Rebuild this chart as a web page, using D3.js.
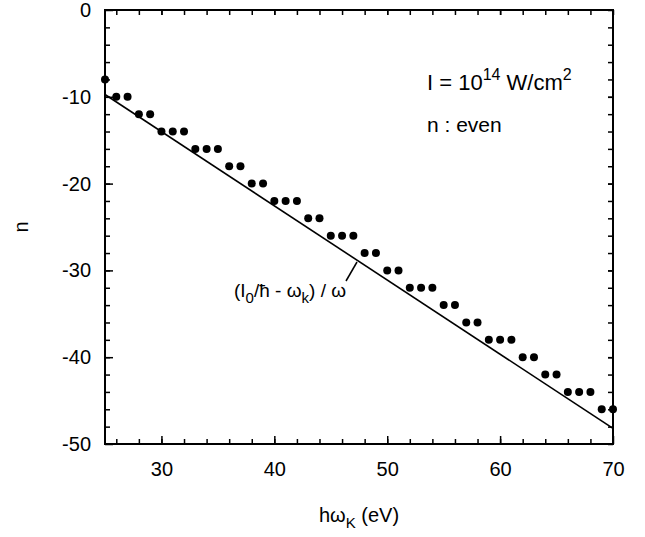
<!DOCTYPE html>
<html>
<head>
<meta charset="utf-8">
<script src="https://cdn.jsdelivr.net/npm/d3@7"></script>
<style>
  body { margin: 0; background: #fff; }
  svg text { font-family: "Liberation Sans", Arial, sans-serif; fill: #000; }
</style>
</head>
<body>
<div id="chart"></div>
<script>
// photon energy h*omega_K (eV) and harmonic order n (even)
const energy = [25, 26, 27, 28, 29, 30, 31, 32, 33, 34, 35, 36, 37, 38, 39, 40, 41, 42, 43, 44, 45, 46, 47,
  48, 49, 50, 51, 52, 53, 54, 55, 56, 57, 58, 59, 60, 61, 62, 63, 64, 65, 66, 67, 68, 69, 70];
const order = [-8, -10, -10, -12, -12, -14, -14, -14, -16, -16, -16, -18, -18, -20, -20, -22, -22, -22, -24, -24, -26, -26, -26,
  -28, -28, -30, -30, -32, -32, -32, -34, -34, -36, -36, -38, -38, -38, -40, -40, -42, -42, -44, -44, -44, -46, -46];

// (I0/hbar - omega_k)/omega line end points
const lineX = [25, 70];
const lineY = [-9.74, -48.2];

const xTicks = [30, 40, 50, 60, 70];
const yTicks = [0, -10, -20, -30, -40, -50];

const width = 645, height = 537;
const margin = { top: 10, right: 32, bottom: 93, left: 105 };

const svg = d3.select("#chart").append("svg")
  .attr("width", width)
  .attr("height", height);

const x = d3.scaleLinear().domain([25, 70]).range([margin.left, width - margin.right]);
const y = d3.scaleLinear().domain([-50, 0]).range([height - margin.bottom, margin.top]);

const fs = 20;   // 文字サイズ
const fsSub = 15; // 添字の文字サイズ

// 目盛り（内向き）
const xMinor = d3.range(26, 70, 2);
const yMinor = d3.range(-48, 0, 2);

const gAxes = svg.append("g");

gAxes.append("g")
  .attr("transform", `translate(0,${y(-50)})`)
  .call(d3.axisBottom(x).tickValues(xMinor).tickSize(-5).tickFormat(""))
  .call(g => g.select(".domain").remove());
gAxes.append("g")
  .attr("transform", `translate(0,${y(-50)})`)
  .call(d3.axisBottom(x).tickValues(xTicks).tickSize(-8).tickPadding(18).tickFormat(d => String(d)))
  .call(g => g.select(".domain").remove())
  .call(g => g.selectAll("text").attr("font-size", fs).attr("font-family", null));
gAxes.append("g")
  .attr("transform", `translate(0,${y(0)})`)
  .call(d3.axisTop(x).tickValues(xMinor.concat(xTicks)).tickSize(-5).tickFormat(""))
  .call(g => g.select(".domain").remove());

gAxes.append("g")
  .attr("transform", `translate(${x(25)},0)`)
  .call(d3.axisLeft(y).tickValues(yMinor).tickSize(-5).tickFormat(""))
  .call(g => g.select(".domain").remove());
gAxes.append("g")
  .attr("transform", `translate(${x(25)},0)`)
  .call(d3.axisLeft(y).tickValues(yTicks).tickSize(-8).tickPadding(14).tickFormat(d => String(d)))
  .call(g => g.select(".domain").remove())
  .call(g => g.selectAll("text").attr("font-size", fs).attr("font-family", null));
gAxes.append("g")
  .attr("transform", `translate(${x(70)},0)`)
  .call(d3.axisRight(y).tickValues(yMinor.concat(yTicks)).tickSize(-5).tickFormat(""))
  .call(g => g.select(".domain").remove());

gAxes.selectAll("line").attr("stroke", "#000").attr("stroke-width", 1.5);

// 枠
svg.append("rect")
  .attr("x", x(25)).attr("y", y(0))
  .attr("width", x(70) - x(25)).attr("height", y(-50) - y(0))
  .attr("fill", "none").attr("stroke", "#000").attr("stroke-width", 2);

// 直線
svg.append("path")
  .datum(lineX.map((d, i) => [d, lineY[i]]))
  .attr("fill", "none").attr("stroke", "#000").attr("stroke-width", 1.6)
  .attr("d", d3.line().x(d => x(d[0])).y(d => y(d[1])));

// 点
svg.append("g")
  .selectAll("circle")
  .data(energy)
  .join("circle")
    .attr("cx", d => x(d))
    .attr("cy", (d, i) => y(order[i]))
    .attr("r", 4)
    .attr("fill", "#000");

// 軸ラベル
svg.append("text")
  .attr("transform", `translate(28,${(y(0) + y(-50)) / 2}) rotate(-90)`)
  .attr("text-anchor", "middle")
  .attr("font-size", fs)
  .text("n");

const xl = svg.append("text")
  .attr("x", (x(25) + x(70)) / 2).attr("y", 522)
  .attr("text-anchor", "middle")
  .attr("font-size", fs);
xl.append("tspan").text("hω");
xl.append("tspan").attr("dy", 6).attr("font-size", fsSub).text("K");
xl.append("tspan").attr("dy", -6).text(" (eV)");

// 注記
const t1 = svg.append("text").attr("x", 427).attr("y", 90).attr("font-size", fs + 2);
t1.append("tspan").text("I = 10");
t1.append("tspan").attr("dy", -10).attr("font-size", fsSub + 1).text("14");
t1.append("tspan").attr("dy", 10).text(" W/cm");
t1.append("tspan").attr("dy", -10).attr("font-size", fsSub + 1).text("2");

svg.append("text").attr("x", 427).attr("y", 132).attr("font-size", fs + 1).text("n : even");

const t2 = svg.append("text").attr("x", 234).attr("y", 297).attr("font-size", fs - 1);
t2.append("tspan").text("(I");
t2.append("tspan").attr("dy", 6).attr("font-size", fsSub).text("0");
t2.append("tspan").attr("dy", -6).text("/ħ - ω");
t2.append("tspan").attr("dy", 6).attr("font-size", fsSub).text("k");
t2.append("tspan").attr("dy", -6).text(") / ω");

svg.append("line")
  .attr("x1", 346).attr("y1", 281).attr("x2", 357).attr("y2", 262)
  .attr("stroke", "#000").attr("stroke-width", 1.5);
</script>
</body>
</html>
